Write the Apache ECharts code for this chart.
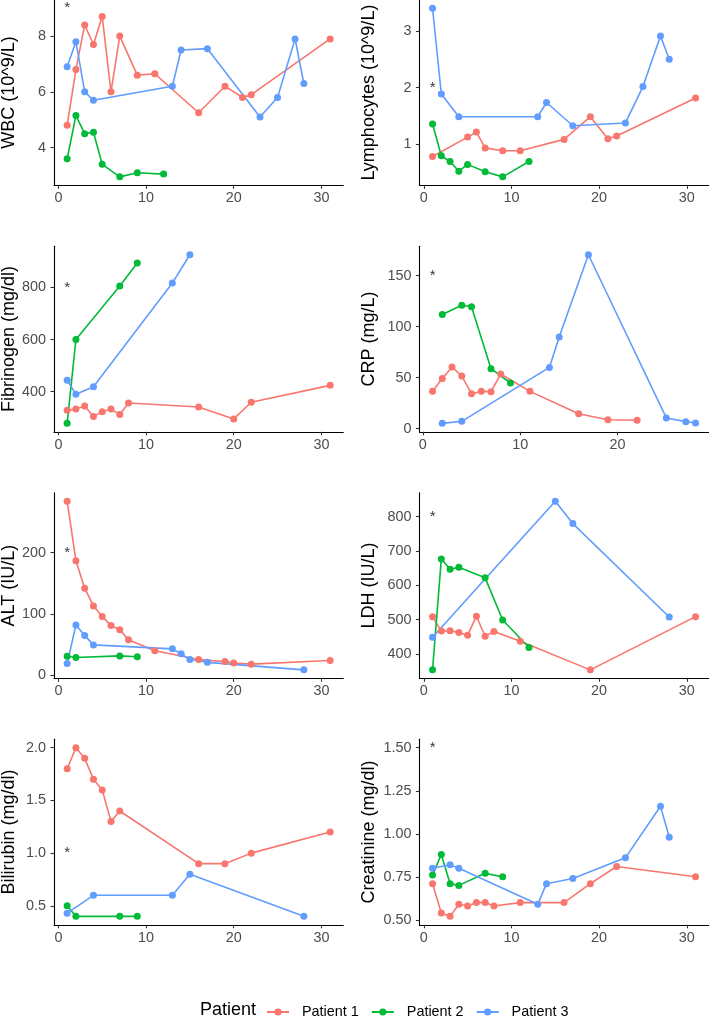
<!DOCTYPE html>
<html><head><meta charset="utf-8">
<script src="https://cdn.jsdelivr.net/npm/echarts@6/dist/echarts.min.js"></script>
<style>html,body{margin:0;padding:0;background:#fff}#c{width:709px;height:1016px}</style>
</head><body><div id="c"></div>
<script>
const patients = ['Patient 1', 'Patient 2', 'Patient 3'];
const colors = ['#F8766D', '#00BA38', '#619CFF'];

// ---- WBC (10^9/L)
const wbcP1Day = [1,2,3,4,5,6,7,9,11,16,19,21,22,31];
const wbcP1Val = [4.8,6.8,8.4,7.7,8.7,6.0,8.0,6.6,6.65,5.25,6.2,5.8,5.9,7.9];
const wbcP2Day = [1,2,3,4,5,7,9,12];
const wbcP2Val = [3.6,5.15,4.5,4.55,3.4,2.95,3.1,3.05];
const wbcP3Day = [1,2,3,4,13,14,17,23,25,27,28];
const wbcP3Val = [6.9,7.8,6.0,5.7,6.2,7.5,7.55,5.1,5.8,7.9,6.3];

// ---- Lymphocytes (10^9/L)
const lymP1Day = [1,5,6,7,9,11,16,19,21,22,31];
const lymP1Val = [0.79,1.13,1.22,0.94,0.89,0.89,1.09,1.49,1.10,1.15,1.82];
const lymP2Day = [1,2,3,4,5,7,9,12];
const lymP2Val = [1.36,0.80,0.70,0.53,0.65,0.52,0.43,0.70];
const lymP3Day = [1,2,4,13,14,17,23,25,27,28];
const lymP3Val = [3.4,1.89,1.49,1.49,1.74,1.33,1.38,2.02,2.91,2.50];

// ---- Fibrinogen (mg/dl)
const fibP1Day = [1,2,3,4,5,6,7,8,16,20,22,31];
const fibP1Val = [328,333,345,304,323,333,312,356,341,295,359,424];
const fibP2Day = [1,2,7,9];
const fibP2Val = [278,600,806,894];
const fibP3Day = [1,2,4,13,15];
const fibP3Val = [444,390,419,817,926];

// ---- CRP (mg/L)
const crpP1Day = [1,2,3,4,5,6,7,8,11,16,19,22];
const crpP1Val = [36.6,49.3,60.5,51.6,34.3,36.6,36.3,53.6,36.6,14.7,8.8,8.2];
const crpP2Day = [2,4,5,7,9];
const crpP2Val = [112,121,119.6,58.8,44.8];
const crpP3Day = [2,4,13,14,17,25,27,28];
const crpP3Val = [5.2,7.2,60.1,90,170.6,10.5,6.9,5.6];

// ---- ALT (IU/L)
const altP1Day = [1,2,3,4,5,6,7,8,11,16,19,20,22,31];
const altP1Val = [284,187,142,113,96,81,74,58,40,25.5,22.3,20,18,24];
const altP2Day = [1,2,7,9];
const altP2Val = [31,29,31.5,30];
const altP3Day = [1,2,3,4,13,14,15,17,28];
const altP3Val = [19,82,65,49.5,43,35,25.5,21,8.7];

// ---- LDH (IU/L)
const ldhP1Day = [1,2,3,4,5,6,7,8,11,19,31];
const ldhP1Val = [509,467,468,463,455,510,452,466,437,354,509];
const ldhP2Day = [1,2,3,4,7,9,12];
const ldhP2Val = [354,677,647,653,622,499,419];
const ldhP3Day = [1,15,17,28];
const ldhP3Val = [449,845,780,508];

// ---- Bilirubin (mg/dl)
const bilP1Day = [1,2,3,4,5,6,7,16,19,22,31];
const bilP1Val = [1.8,2.0,1.9,1.7,1.6,1.3,1.4,0.9,0.9,1.0,1.2];
const bilP2Day = [1,2,7,9];
const bilP2Val = [0.5,0.4,0.4,0.4];
const bilP3Day = [1,4,13,15,28];
const bilP3Val = [0.43,0.6,0.6,0.8,0.4];

// ---- Creatinine (mg/dl)
const creP1Day = [1,2,3,4,5,6,7,8,11,16,19,22,31];
const creP1Val = [0.71,0.54,0.52,0.59,0.58,0.60,0.60,0.58,0.60,0.60,0.71,0.81,0.75];
const creP2Day = [1,2,3,4,7,9];
const creP2Val = [0.76,0.88,0.71,0.70,0.77,0.75];
const creP3Day = [1,3,4,13,14,17,23,27,28];
const creP3Val = [0.80,0.82,0.80,0.59,0.71,0.74,0.86,1.16,0.98];

// ---- panel titles, significance marks (x, y) and tick labels
const panelTitles = ['WBC (10^9/L)', 'Lymphocytes (10^9/L)', 'Fibrinogen (mg/dl)', 'CRP (mg/L)',
                     'ALT (IU/L)', 'LDH (IU/L)', 'Bilirubin (mg/dl)', 'Creatinine (mg/dl)'];
const starX = [1, 1, 1, 1, 1, 1, 1, 1];
const starY = [9, 2, 800, 150, 200, 800, 1.0, 1.5];
const xTicks = [0, 10, 20, 30];
const xTicksCrp = [0, 10, 20];
const wbcTicks = [4, 6, 8];            const wbcLabels = ['4', '6', '8'];
const lymTicks = [1, 2, 3];            const lymLabels = ['1', '2', '3'];
const fibTicks = [400, 600, 800];      const fibLabels = ['400', '600', '800'];
const crpTicks = [0, 50, 100, 150];    const crpLabels = ['0', '50', '100', '150'];
const altTicks = [0, 100, 200];        const altLabels = ['0', '100', '200'];
const ldhTicks = [400, 500, 600, 700, 800]; const ldhLabels = ['400', '500', '600', '700', '800'];
const bilTicks = [0.5, 1.0, 1.5, 2.0]; const bilLabels = ['0.5', '1.0', '1.5', '2.0'];
const creTicks = [0.50, 0.75, 1.00, 1.25, 1.50]; const creLabels = ['0.50', '0.75', '1.00', '1.25', '1.50'];

// ---- assemble panels
const panels = [
  {days: [wbcP1Day, wbcP2Day, wbcP3Day], vals: [wbcP1Val, wbcP2Val, wbcP3Val], yT: wbcTicks, yL: wbcLabels, xT: xTicks},
  {days: [lymP1Day, lymP2Day, lymP3Day], vals: [lymP1Val, lymP2Val, lymP3Val], yT: lymTicks, yL: lymLabels, xT: xTicks},
  {days: [fibP1Day, fibP2Day, fibP3Day], vals: [fibP1Val, fibP2Val, fibP3Val], yT: fibTicks, yL: fibLabels, xT: xTicks},
  {days: [crpP1Day, crpP2Day, crpP3Day], vals: [crpP1Val, crpP2Val, crpP3Val], yT: crpTicks, yL: crpLabels, xT: xTicksCrp},
  {days: [altP1Day, altP2Day, altP3Day], vals: [altP1Val, altP2Val, altP3Val], yT: altTicks, yL: altLabels, xT: xTicks},
  {days: [ldhP1Day, ldhP2Day, ldhP3Day], vals: [ldhP1Val, ldhP2Val, ldhP3Val], yT: ldhTicks, yL: ldhLabels, xT: xTicks},
  {days: [bilP1Day, bilP2Day, bilP3Day], vals: [bilP1Val, bilP2Val, bilP3Val], yT: bilTicks, yL: bilLabels, xT: xTicks},
  {days: [creP1Day, creP2Day, creP3Day], vals: [creP1Val, creP2Val, creP3Val], yT: creTicks, yL: creLabels, xT: xTicks}
];

const FONT = "'Liberation Sans', Arial, Helvetica, sans-serif";
function expand(arr) {
  const mn = Math.min(...arr), mx = Math.max(...arr), d = (mx - mn) * 0.05;
  return [mn - d, mx + d];
}

const grids = [], xAxes = [], yAxes = [], lineSeries = [], pointSeries = [], starSeries = [];
const colLeft = [54, 419.4], plotW = 289.3, rowTop0 = -0.2, rowPitch = 246.5, plotH = 185.5;
const nameGaps = [36, 41.4];

panels.forEach((p, i) => {
  const col = i % 2, row = Math.floor(i / 2);
  grids.push({left: colLeft[col], top: rowTop0 + row * rowPitch, width: plotW, height: plotH,
              containLabel: false, outerBoundsMode: 'none'});
  const xr = expand([].concat(...p.days, [starX[i]]));
  const yr = expand([].concat(...p.vals, [starY[i]]));
  xAxes.push({
    type: 'value', gridIndex: i, min: xr[0], max: xr[1],
    axisLine: {show: true, onZero: false, lineStyle: {color: '#000', width: 1.1}},
    axisTick: {show: true, customValues: p.xT, length: 3.5, lineStyle: {color: '#333', width: 1.1}},
    axisLabel: {show: true, customValues: p.xT, color: '#4D4D4D', fontSize: 14.4, fontFamily: FONT, margin: 6,
                formatter: v => String(v)},
    splitLine: {show: false}
  });
  yAxes.push({
    type: 'value', gridIndex: i, min: yr[0], max: yr[1],
    name: panelTitles[i], nameLocation: 'middle', nameGap: nameGaps[col], nameRotate: 90,
    nameMoveOverlap: false,
    nameTextStyle: {color: '#000', fontSize: 18, fontFamily: FONT},
    axisLine: {show: true, onZero: false, lineStyle: {color: '#000', width: 1.1}},
    axisTick: {show: true, customValues: p.yT, length: 3.5, lineStyle: {color: '#333', width: 1.1}},
    axisLabel: {show: true, customValues: p.yT, color: '#4D4D4D', fontSize: 14.4, fontFamily: FONT, margin: 8,
                formatter: v => { const k = p.yT.findIndex(t => Math.abs(t - v) < 1e-9); return k >= 0 ? p.yL[k] : ''; }},
    splitLine: {show: false}
  });
  for (let k = 0; k < 3; k++) {
    const data = p.days[k].map((d, j) => [d, p.vals[k][j]]);
    lineSeries.push({
      type: 'line', name: patients[k], xAxisIndex: i, yAxisIndex: i, data: data,
      showSymbol: false, symbol: 'circle', symbolSize: 7, z: 2,
      lineStyle: {color: colors[k], width: 1.6}, itemStyle: {color: colors[k]},
      emphasis: {disabled: true}, silent: true
    });
    pointSeries.push({
      type: 'scatter', name: patients[k], xAxisIndex: i, yAxisIndex: i, data: data,
      symbol: 'circle', symbolSize: 7, z: 3,
      itemStyle: {color: colors[k], opacity: 1}, emphasis: {disabled: true}, silent: true
    });
  }
  starSeries.push({
    type: 'scatter', name: 'sig', xAxisIndex: i, yAxisIndex: i, data: [[starX[i], starY[i]]],
    symbol: 'circle', symbolSize: 1, z: 4, itemStyle: {color: 'rgba(0,0,0,0)'},
    label: {show: true, position: 'inside', formatter: '*', color: '#000', fontSize: 15, fontFamily: FONT},
    emphasis: {disabled: true}, silent: true
  });
});

const chart = echarts.init(document.getElementById('c'), null, {renderer: 'canvas'});
chart.setOption({
  animation: false,
  backgroundColor: '#fff',
  title: {text: 'Patient', left: 200, top: 1001, padding: 0,
          textStyle: {color: '#000', fontSize: 18, fontWeight: 'normal', fontFamily: FONT}},
  legend: {
    data: patients, orient: 'horizontal', left: 266, top: 1005, padding: 0,
    itemWidth: 22, itemHeight: 9, itemGap: 12,
    formatter: n => '{s|}' + n,
    textStyle: {color: '#000', fontSize: 14.4, fontFamily: FONT, rich: {s: {width: 8}}},
    selectedMode: false
  },
  grid: grids, xAxis: xAxes, yAxis: yAxes,
  series: lineSeries.concat(pointSeries, starSeries)
});
</script></body></html>
